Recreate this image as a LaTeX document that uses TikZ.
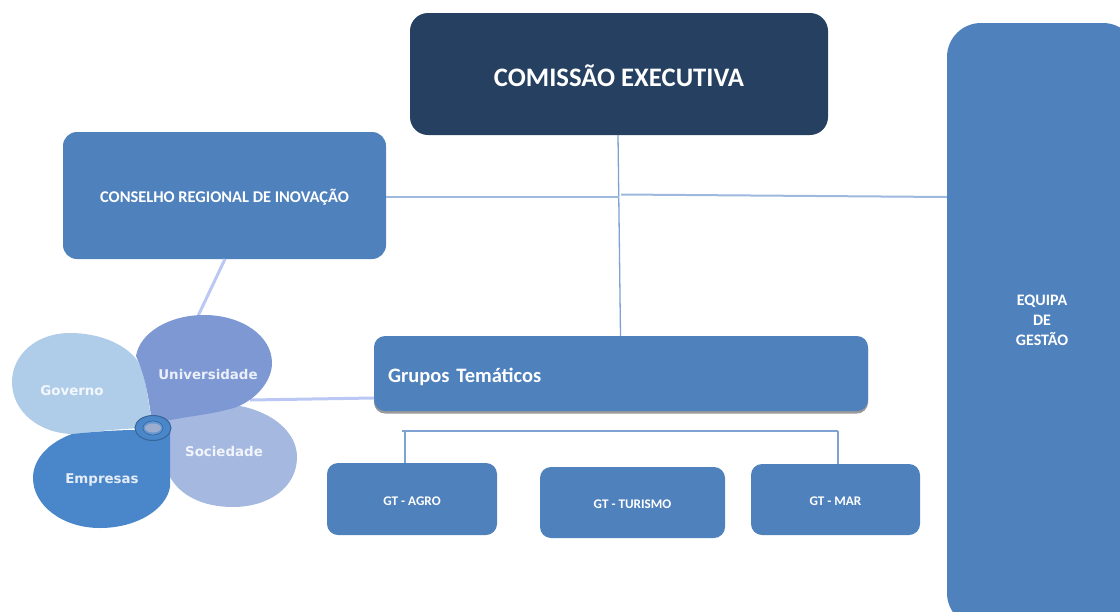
\documentclass[tikz,border=0pt]{standalone}
\usepackage{fontspec}
\setmainfont{Carlito}
\newfontfamily\petalfont{DejaVu Sans}
\usetikzlibrary{shadows}
\newcommand{\dropby}[2]{\raisebox{-#1}[\height][\depth]{#2}}
\definecolor{boxblue}{HTML}{4F81BD}
\definecolor{navy}{HTML}{254061}
\definecolor{lineblue}{HTML}{7EA3D3}
\definecolor{linelight}{HTML}{9DB9DE}
\definecolor{linepale}{HTML}{BBC8F5}
\definecolor{petalgov}{HTML}{AFCDE9}
\definecolor{petaluni}{HTML}{7E98D4}
\definecolor{petalsoc}{HTML}{A5B9E0}
\definecolor{petalemp}{HTML}{4A86CA}
\tikzset{
  box/.style={fill=boxblue,draw=none,rounded corners=#1,text=white,font=\bfseries,align=center,inner sep=0pt},
  box/.default=14pt,
  gtbox/.style={box=11pt,font=\bfseries\fontsize{13.2}{15}\selectfont},
  thinline/.style={draw=lineblue,line width=1.3pt},
  hline/.style={draw=linelight,line width=2pt},
  paleline/.style={draw=linepale,line width=3pt},
  petaltext/.style={text=white,opacity=.85,font=\petalfont\bfseries\fontsize{13.4}{15}\selectfont,inner sep=0pt},
}
\begin{document}
\begin{tikzpicture}[x=1pt,y=-1pt]
\useasboundingbox (0,0) rectangle (1120,611);
\clip (0,0) rectangle (1120,611);
% free connector ends
\coordinate (uniTop) at (198,316);
\coordinate (uniRight) at (250,400);
\coordinate (criFoot) at (225,259);
\coordinate (gtLeft) at (374,398);
\coordinate (ceFoot) at (618,135);
\coordinate (gtHead) at (620.5,336);
\coordinate (jA) at (619,197);
\coordinate (jB) at (621,194.5);
\coordinate (busL) at (402,431);
\coordinate (busA) at (405,431);
\coordinate (busR) at (838,431);

% boxes
\node[box=18pt,fill=navy,minimum width=418pt,minimum height=122pt,font=\bfseries\fontsize{26.7}{32}\selectfont] (ce) at (619,74) {\dropby{2pt}{COMISSÃO EXECUTIVA}};
\node[box,minimum width=323pt,minimum height=127pt,font=\bfseries\fontsize{16.4}{19}\selectfont] (cri) at (224.5,195.5) {\dropby{2pt}{CONSELHO REGIONAL DE INOVAÇÃO}};
\node[box=34pt,minimum width=190pt,minimum height=604pt] (eg) at (1042,325) {};
\node[text=white,font=\bfseries\fontsize{16}{20}\selectfont,align=center,inner sep=0pt] (egt) at (1042,320) {EQUIPA\\DE\\GESTÃO};
\node[box=11pt,minimum width=494pt,minimum height=75pt,text width=466pt,align=left,drop shadow={shadow xshift=0pt,shadow yshift=-2.5pt,opacity=.4,fill=black},font=\bfseries\fontsize{20.5}{24}\selectfont] (gt) at (621,373.5) {\dropby{3pt}{Grupos Temáticos}};
\node[gtbox,minimum width=170pt,minimum height=72pt] (agro) at (412,499) {\dropby{2pt}{GT - AGRO}};
\node[gtbox,minimum width=185pt,minimum height=71pt] (tur) at (632.5,502.5) {\dropby{2pt}{GT - TURISMO}};
\node[gtbox,minimum width=169pt,minimum height=71pt] (mar) at (835.5,499.5) {\dropby{2pt}{GT - MAR}};

% connectors
\draw[thinline] (ceFoot) -- (gtHead);
\draw[hline] (cri.east |- jA) -- (jA);
\draw[hline] (jB) -- (eg.west |- jA);
\draw[thinline] (busL) -- (busR);
\draw[thinline] (busA) -- (busA |- agro.north);
\draw[thinline] (busR) -- (busR |- mar.north);
\draw[paleline] (criFoot) -- (uniTop);
\draw[paleline] (uniRight) -- (gtLeft);

% petals
\fill[petalsoc] (168,420) .. controls (190,416) and (215,413) .. (240,406) .. controls (272,412) and (297,432) .. (297,457) .. controls (297,488) and (268,507) .. (233,507) .. controls (202,507) and (180,495) .. (170,477) -- (170,430) -- cycle;
\fill[petalgov] (152,425) .. controls (148,400) and (146,375) .. (137,360) .. controls (124,343) and (98,333) .. (70,333) .. controls (36,333) and (12,355) .. (12,382) .. controls (12,412) and (40,434) .. (74,434) .. controls (95,432) and (120,428) .. (152,428) -- cycle;
\fill[petaluni] (152,424) .. controls (149,400) and (146,378) .. (136,356) .. controls (140,332) and (170,315) .. (204,315) .. controls (242,315) and (272,336) .. (272,363) .. controls (272,380) and (258,398) .. (237,407) .. controls (215,414) and (190,416) .. (165,421) -- cycle;
\fill[petalemp] (170,428) -- (170,487) .. controls (166,510) and (136,528) .. (100,528) .. controls (62,528) and (33,505) .. (33,478) .. controls (33,458) and (50,442) .. (72,434) .. controls (92,432) and (115,430) .. (136,430) -- cycle;

% ring
\draw[draw=black!25!petalemp,line width=1pt,fill=petalemp] (153,428) ellipse [x radius=18pt,y radius=12.5pt];
\draw[draw=black!25!petalemp,line width=.6pt,fill=petalemp!85!white] (153,428) ellipse [x radius=10pt,y radius=7pt];
\fill[fill=petalsoc!80!gray] (153,428) ellipse [x radius=8pt,y radius=4.5pt];

% petal labels
\node[petaltext] (lgov) at (72,391) {Governo};
\node[petaltext] (luni) at (208,374) {Universidade};
\node[petaltext] (lsoc) at (224,451.5) {Sociedade};
\node[petaltext] (lemp) at (102,480) {Empresas};
\end{tikzpicture}
\end{document}
